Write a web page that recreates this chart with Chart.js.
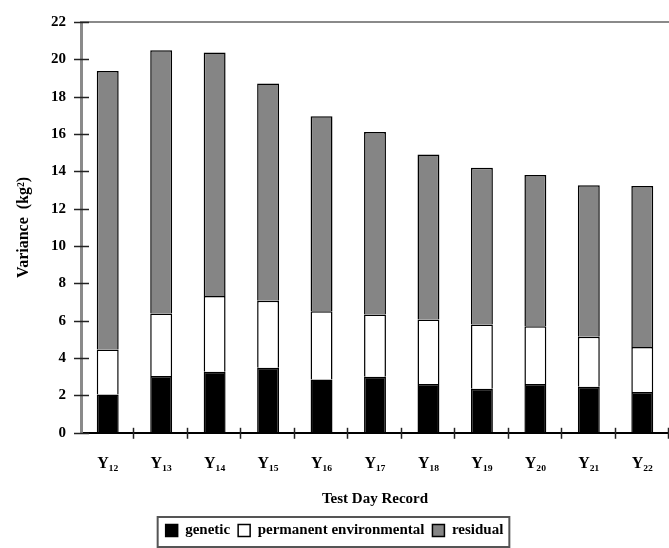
<!DOCTYPE html>
<html>
<head>
<meta charset="utf-8">
<script src="https://cdn.jsdelivr.net/npm/chart.js@4"></script>
<style>
  body { margin: 0; background: #fff; }
  #wrap { width: 669px; height: 548px; }
</style>
</head>
<body>
<div id="wrap"><canvas id="myChart" width="669" height="548"></canvas></div>
<script>
// data
var records = ['Y₁₂', 'Y₁₃', 'Y₁₄', 'Y₁₅', 'Y₁₆', 'Y₁₇', 'Y₁₈', 'Y₁₉', 'Y₂₀', 'Y₂₁', 'Y₂₂'];
var genetic = [2.05, 3.04, 3.27, 3.48, 2.86, 3.00, 2.61, 2.36, 2.61, 2.46, 2.18];
var permanent = [2.41, 3.35, 4.05, 3.59, 3.65, 3.34, 3.46, 3.44, 3.10, 2.68, 2.42];
var residual = [14.92, 14.10, 13.04, 11.63, 10.44, 9.77, 8.83, 8.39, 8.09, 8.12, 8.62];
var yTicks = [0, 2, 4, 6, 8, 10, 12, 14, 16, 18, 20, 22];

var serif = '"Liberation Serif", "Times New Roman", serif';

// tick marks crossing the axes + top line + legend frame
var axisDeco = {
    id: 'axisDeco',
    afterDraw: function(chart) {
        var ctx = chart.ctx;
        var x = chart.scales.x, y = chart.scales.y;
        ctx.save();
        // top line at 22
        ctx.strokeStyle = '#8a8a8a';
        ctx.lineWidth = 2;
        ctx.beginPath();
        ctx.moveTo(x.left, y.getPixelForValue(22));
        ctx.lineTo(x.right, y.getPixelForValue(22));
        ctx.stroke();
        // y ticks
        ctx.strokeStyle = '#222';
        ctx.lineWidth = 1.5;
        yTicks.forEach(function(v) {
            var py = Math.round(y.getPixelForValue(v)) + 0.5;
            ctx.beginPath();
            ctx.moveTo(x.left - 7, py);
            ctx.lineTo(x.left + 8, py);
            ctx.stroke();
        });
        // x ticks between categories
        var step = x.width / records.length;
        for (var i = 1; i <= records.length; i++) {
            var px = Math.round(x.left + i * step) - 0.5;
            ctx.beginPath();
            ctx.moveTo(px, y.bottom - 5);
            ctx.lineTo(px, y.bottom + 6);
            ctx.stroke();
        }
        // legend frame
        var lg = chart.legend;
        if (lg && lg.legendItems.length) {
            var hb = lg.legendHitBoxes;
            var l = hb[0].left - 8;
            var r = hb[hb.length - 1].left + hb[hb.length - 1].width + 6;
            ctx.strokeStyle = '#555';
            ctx.lineWidth = 2;
            ctx.strokeRect(l, lg.top + 2, r - l, lg.height - 3);
        }
        ctx.restore();
    }
};

var ctx = document.getElementById('myChart').getContext('2d');
var myChart = new Chart(ctx, {
    type: 'bar',
    data: {
        labels: records,
        datasets: [{
            label: 'genetic',
            data: genetic,
            backgroundColor: '#000000',
            borderColor: '#000000',
            borderWidth: 1.5
        }, {
            label: 'permanent environmental',
            data: permanent,
            backgroundColor: '#ffffff',
            borderColor: '#000000',
            borderWidth: 1.5
        }, {
            label: 'residual',
            data: residual,
            backgroundColor: '#858585',
            borderColor: '#000000',
            borderWidth: 1.5
        }]
    },
    options: {
        responsive: false,
        animation: false,
        devicePixelRatio: 1,
        layout: { padding: { top: 22, right: 0, left: 0, bottom: 0 } },
        datasets: { bar: { categoryPercentage: 1, barPercentage: 0.41 } },
        scales: {
            x: {
                stacked: true,
                grid: { display: false },
                border: { color: '#000', width: 2 },
                ticks: {
                    color: '#000',
                    padding: 13,
                    font: { family: serif, size: 16, weight: 'bold' }
                },
                title: {
                    display: true,
                    text: 'Test Day Record',
                    color: '#000',
                    padding: { top: 4, bottom: 7 },
                    font: { family: serif, size: 15, weight: 'bold' }
                }
            },
            y: {
                stacked: true,
                min: 0,
                max: 22,
                grid: { display: false },
                border: { color: '#8a8a8a', width: 3 },
                afterBuildTicks: function(scale) {
                    scale.ticks = yTicks.map(function(v) { return { value: v }; });
                },
                afterFit: function(scale) { scale.width = 81; },
                ticks: {
                    color: '#000',
                    padding: 7,
                    font: { family: serif, size: 15, weight: 'bold' }
                },
                title: {
                    display: true,
                    text: 'Variance  (kg²)',
                    color: '#000',
                    padding: { top: 14, bottom: 0 },
                    font: { family: serif, size: 16, weight: 'bold' }
                }
            }
        },
        plugins: {
            legend: {
                position: 'bottom',
                labels: {
                    color: '#000',
                    boxWidth: 12,
                    boxHeight: 12,
                    padding: 8,
                    font: { family: serif, size: 15, weight: 'bold' }
                }
            },
            tooltip: { enabled: false }
        }
    },
    plugins: [axisDeco]
});
</script>
</body>
</html>
